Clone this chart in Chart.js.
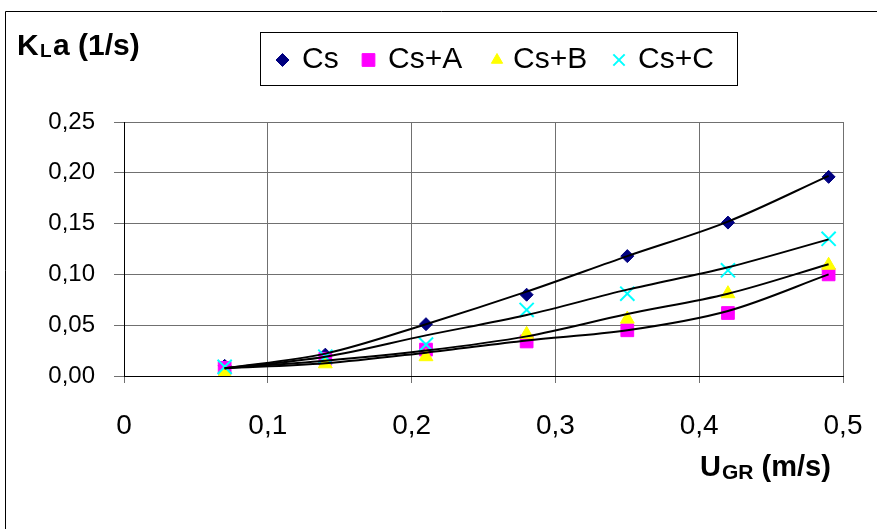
<!DOCTYPE html>
<html>
<head>
<meta charset="utf-8">
<script src="https://cdn.jsdelivr.net/npm/chart.js@4.4.1/dist/chart.umd.min.js"></script>
<style>
	html, body { margin: 0; padding: 0; background: #fff; }
	#wrap { width: 877px; height: 529px; }
</style>
</head>
<body>
<div id="wrap"><canvas id="kla" width="877" height="529"></canvas></div>
<script>
// gas velocity U_GR (m/s)
const ugr = [0.07, 0.14, 0.21, 0.28, 0.35, 0.42, 0.49];

// measured KLa (1/s)
const cs  = [0.010, 0.021, 0.051, 0.080, 0.118, 0.151, 0.196];
const csA = [0.008, 0.017, 0.026, 0.034, 0.045, 0.062, 0.100];
const csB = [0.003, 0.012, 0.019, 0.041, 0.056, 0.081, 0.109];
const csC = [0.009, 0.019, 0.031, 0.065, 0.081, 0.104, 0.135];

// trend lines as they appear in the picture
const csFit  = [0.0076, 0.022, 0.051, 0.083, 0.118, 0.152, 0.197];
const csAFit = [0.0076, 0.0125, 0.023, 0.035, 0.045, 0.064, 0.100];
const csBFit = [0.0076, 0.015, 0.025, 0.039, 0.061, 0.081, 0.110];
const csCFit = [0.0076, 0.019, 0.040, 0.060, 0.085, 0.107, 0.1345];

const seriesNames = ['Cs', 'Cs+A', 'Cs+B', 'Cs+C'];
const xTickLabels = ['0', '0,1', '0,2', '0,3', '0,4', '0,5'];
const yTickLabels = ['0,00', '0,05', '0,10', '0,15', '0,20', '0,25'];

const FONT = "'Liberation Sans', Arial, sans-serif";

function pts(ys){ return ugr.map((x, i) => ({ x, y: ys[i] })); }

const markerStyles = [
	{ pointStyle: 'rectRot',  color: '#000080', radius: 6.5, legendR: 6.5, border: 1 },
	{ pointStyle: 'rect',     color: '#ff00ff', radius: 9,   legendR: 9,   border: 1 },
	{ pointStyle: 'triangle', color: '#ffff00', radius: 8,   legendR: 6.5, border: 1 },
	{ pointStyle: 'crossRot', color: '#00ffff', radius: 10,  legendR: 8,   border: 2 }
];

const measured = [cs, csA, csB, csC];
const fits = [csFit, csAFit, csBFit, csCFit];

const datasets = [];
fits.forEach(f => {
	datasets.push({
		type: 'line',
		data: pts(f),
		borderColor: '#000',
		borderWidth: 2,
		pointRadius: 0,
		cubicInterpolationMode: 'monotone',
		fill: false,
		order: 0
	});
});
measured.forEach((m, i) => {
	const s = markerStyles[i];
	datasets.push({
		label: seriesNames[i],
		data: pts(m),
		showLine: false,
		pointStyle: s.pointStyle,
		pointRadius: s.radius,
		pointBackgroundColor: s.color,
		pointBorderColor: s.color,
		pointBorderWidth: s.border,
		order: 4 - i
	});
});

function drawSub(ctx, x, y, parts){
	// parts: [text, size, dy, optional fixed x]
	parts.forEach(p => {
		if (p[3] !== undefined) x = p[3];
		ctx.font = 'bold ' + p[1] + 'px ' + FONT;
		ctx.fillText(p[0], x, y + p[2]);
		x += ctx.measureText(p[0]).width;
	});
}

function noPad(s){
	s.paddingLeft = 0; s.paddingRight = 0; s.paddingTop = 0; s.paddingBottom = 0;
}

const decor = {
	id: 'decor',
	beforeDraw(chart){
		const ctx = chart.ctx;
		ctx.save();
		ctx.fillStyle = '#fff';
		ctx.fillRect(0, 0, chart.width, chart.height);
		ctx.strokeStyle = '#000';
		ctx.lineWidth = 1;
		ctx.beginPath();
		ctx.moveTo(5.5, chart.height);
		ctx.lineTo(5.5, 11.5);
		ctx.lineTo(chart.width, 11.5);
		ctx.stroke();
		ctx.restore();
	},
	afterDraw(chart){
		const ctx = chart.ctx;
		ctx.save();
		ctx.fillStyle = '#000';
		ctx.textBaseline = 'alphabetic';
		ctx.textAlign = 'left';
		// axis titles with subscripts
		drawSub(ctx, 17, 55, [['K', 30, 0], ['L', 19, 2, 40], ['a (1/s)', 30, 0, 53]]);
		drawSub(ctx, 700, 476, [['U', 29, 0], ['GR', 21, 3, 722], [' (m/s)', 29, 0]]);

		// legend box
		ctx.strokeStyle = '#000';
		ctx.lineWidth = 1;
		ctx.strokeRect(260.5, 32.5, 477, 53);
		const markX = [282.5, 368.5, 497, 619];
		const textX = [302, 388, 513, 638];
		ctx.font = '30px ' + FONT;
		seriesNames.forEach((name, i) => {
			const s = markerStyles[i];
			ctx.fillStyle = s.color;
			ctx.strokeStyle = s.color;
			ctx.lineWidth = s.border;
			Chart.helpers.drawPoint(ctx, { pointStyle: s.pointStyle, radius: s.legendR, rotation: 0, borderWidth: s.border }, markX[i], 60);
			ctx.fillStyle = '#000';
			ctx.fillText(name, textX[i], 68);
		});
		ctx.restore();
	}
};

new Chart(document.getElementById('kla'), {
	type: 'scatter',
	data: { datasets },
	options: {
		responsive: false,
		animation: false,
		events: [],
		layout: { padding: { left: 0, right: 34, top: 122, bottom: 0 } },
		plugins: { legend: { display: false }, tooltip: { enabled: false } },
		scales: {
			x: {
				type: 'linear',
				min: 0, max: 0.5,
				afterFit(s){ s.height = 153; noPad(s); },
				afterBuildTicks(s){ s.ticks = xTickLabels.map((t, i) => ({ value: i * 0.1 })); },
				ticks: {
					callback: (v, i) => xTickLabels[i],
					font: { family: FONT, size: 28 },
					color: '#000',
					padding: 26,
					maxRotation: 0
				},
				grid: {
					color: (c) => c.index === 0 ? 'rgba(0,0,0,0)' : '#707070',
					tickColor: '#707070',
					tickLength: 7,
					lineWidth: 1
				},
				border: { color: '#000', width: 1 }
			},
			y: {
				type: 'linear',
				min: 0, max: 0.25,
				afterFit(s){ s.width = 124; noPad(s); },
				afterBuildTicks(s){ s.ticks = yTickLabels.map((t, i) => ({ value: i * 0.05 })); },
				ticks: {
					callback: (v, i) => yTickLabels[i],
					font: { family: FONT, size: 24 },
					color: '#000',
					padding: 19
				},
				grid: {
					color: '#707070',
					tickColor: '#707070',
					tickLength: 10,
					lineWidth: 1
				},
				border: { color: '#000', width: 1 }
			}
		}
	},
	plugins: [decor]
});
</script>
</body>
</html>
